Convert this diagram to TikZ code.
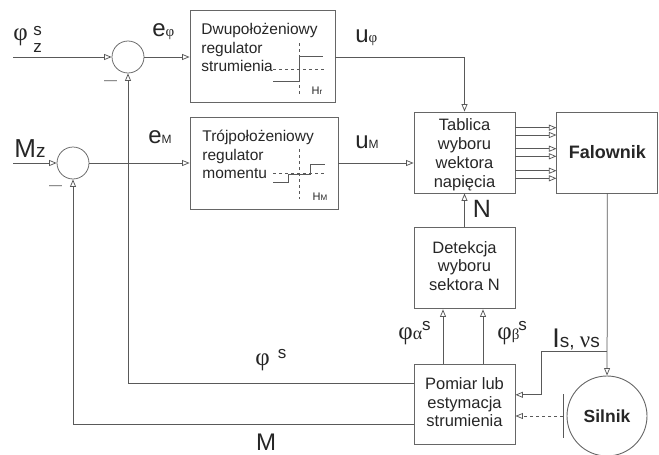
\documentclass[tikz,border=0pt]{standalone}
\usepackage{fontspec}
\setmainfont{Liberation Sans}
\newfontfamily\grfont{Liberation Serif}
\usetikzlibrary{positioning,arrows.meta}
\newcommand{\fsz}[1]{\fontsize{#1}{#1}\selectfont}
\tikzset{every picture/.style={line width=0.75pt}}
\tikzset{
  blok/.style   ={rectangle, draw=black!60, line width=0.9pt, inner sep=0pt, text=black!85, font=\fsz{16.5}, align=center},
  suma/.style   ={circle, draw=black!60, minimum size=32pt, inner sep=0pt},
  opis/.style   ={inner sep=0pt, text=black!85, font=\fsz{15.5}, align=left},
  wielk/.style  ={inner sep=0pt, text=black!85, font=\fsz{24}},
  grec/.style   ={wielk, font=\fsz{25}\grfont, anchor=base west},
  linia/.style  ={draw=black!65},
  strz/.style   ={linia, -{Triangle[open, length=7.5pt, width=6pt]}},
}
\begin{document}
\begin{tikzpicture}[x=1pt, y=-1pt]
  \useasboundingbox (0,0) rectangle (659,455);
  % regulatory
  \node[suma] (sum1) at (128,57) {};
  \node[suma] (sum2) at (73,163) {};
  \node[blok, minimum width=145pt, minimum height=92pt] (regf) at (262.5,56) {};
  \node[blok, minimum width=148pt, minimum height=92pt] (regm) at (264,163) {};
  \node[opis, anchor=north west] (regftxt) at (201,23) {Dwupołożeniowy\\[3pt]regulator\\[3pt]strumienia};
  \node[opis, anchor=north west] (regmtxt) at (202,130) {Trójpołożeniowy\\[3pt]regulator\\[3pt]momentu};
  % bloki po prawej
  \node[blok, minimum width=101pt, minimum height=81pt] (tablica) at (464.5,152.5) {\rule{0pt}{17pt}Tablica\\[2.5pt]wyboru\\[2.5pt]wektora\\[2.5pt]napięcia};
  \node[blok, minimum width=101pt, minimum height=81pt, right=41pt of tablica, font=\fsz{18}\bfseries] (falownik) {Falownik};
  \node[blok, minimum width=101pt, minimum height=81pt, below=34pt of tablica] (detekcja) {Detekcja\\[2pt]wyboru\\[2pt]\rule[-5pt]{0pt}{5pt}sektora N};
  \node[blok, minimum width=101pt, minimum height=80pt, below=55pt of detekcja] (pomiar) {Pomiar lub\\[2pt]estymacja\\[2pt]\rule[-5pt]{0pt}{5pt}strumienia};
  \node[blok, circle, minimum size=80pt, font=\fsz{17.5}\bfseries] (silnik) at (607,416) {Silnik};
  % wejscia
  \coordinate (phiz) at (13,57);
  \coordinate (mz) at (13,163);
  \draw[strz] (phiz) -- (sum1);
  \draw[strz] (mz) -- (sum2);
  \draw[strz] (sum1) -- (sum1 -| regf.west);
  \draw[strz] (sum2) -- (regm);
  \draw[strz] (regf.east |- sum1) -| (tablica.north);
  \draw[strz] (regm) -- (regm -| tablica.west);
  \foreach \dy in {24.8,17.5,3.8,-3.8,-18.2,-25.8}
    \draw[strz] ([yshift=\dy pt]tablica.east) -- ([yshift=\dy pt]tablica.east -| falownik.west);
  \draw[strz] (detekcja) -- (tablica);
  \draw[strz] ([xshift=-21.5pt]pomiar.north) -- ([xshift=-21.5pt]detekcja.south);
  \draw[strz] ([xshift=18.5pt]pomiar.north) -- ([xshift=18.5pt]detekcja.south);
  % sprzezenia
  \draw[strz] ([yshift=21pt]pomiar.west) -| (sum1.south);
  \draw[strz] ([yshift=-20pt]pomiar.west) -| (sum2.south);
  \draw[strz] (falownik) -- (silnik);
  \coordinate (odg) at (607,351);
  \coordinate (zal) at (541,351);
  \draw[strz] (odg) -- (zal) |- ([yshift=10pt]pomiar.east);
  \coordinate (bargora) at (563,394);
  \coordinate (bardol) at (563,438);
  \coordinate (barsr) at (563,416);
  \draw[linia] (bargora) -- (bardol);
  \draw[strz, dashed] (barsr) -- (barsr -| pomiar.east);
  % charakterystyki
  \draw[linia, dashed] (299,43) -- (299,95);
  \draw[linia, dashed] (273,69) -- (325,69);
  \draw[linia] (273,81) -- (299,81) -- (299,56) -- (323,56);
  \draw[linia, dashed] (299,149) -- (299,199);
  \draw[linia, dashed] (273,173) -- (325,173);
  \draw[linia] (273,182) -- (288,182) -- (288,174) -- (310,174) -- (310,164) -- (325,164);
  \node[opis, font=\fsz{11}] (hr) at (317,91) {H\fsz{8}r};
  \node[opis, font=\fsz{11}] (hm) at (320,197) {H\fsz{8}M};
  % minusy
  \node[opis, font=\fsz{13}, text=black!60] (min1) at (110.5,83) {—};
  \node[opis, font=\fsz{13}, text=black!60] (min2) at (55.5,188) {—};
  % oznaczenia
  \node[grec] (lphi) at (13,40) {φ};
  \node[opis, font=\fsz{17}, align=center] (lsz) at (37.5,39.5) {s\\[-0.5pt]z};
  \node[wielk, anchor=base west] (lephi) at (152,36) {e{\fsz{15}\grfont φ}};
  \node[wielk, anchor=base west] (lem) at (148,143) {e{\fsz{12}M}};
  \node[wielk, anchor=base west] (lmz) at (14,157) {\fsz{26}M{\fsz{19}z}};
  \node[wielk, anchor=base west] (luphi) at (355,42) {u{\fsz{15}\grfont φ}};
  \node[wielk, anchor=base west] (lum) at (355,148) {u{\fsz{12}M}};
  \node[wielk, font=\fsz{25}] (ln) at (482,209) {N};
  \node[grec] (lpa) at (398,339) {φ{\fsz{18}α}\raisebox{9pt}{\fsz{17}\normalfont s}};
  \node[grec] (lpb) at (497,339) {φ{\fsz{15}β}\kern-1pt\raisebox{9pt}{\fsz{17}\normalfont s}};
  \node[grec] (lps) at (255,365) {φ\kern8pt\raisebox{7pt}{\fsz{17}\normalfont s}};
  \node[wielk, anchor=base west, font=\fsz{27}] (lis) at (552,347) {I{\fsz{19}s, {\fsz{23}\grfont ν}s}};
  \node[wielk] (lm) at (266,442) {M};
\end{tikzpicture}
\end{document}
